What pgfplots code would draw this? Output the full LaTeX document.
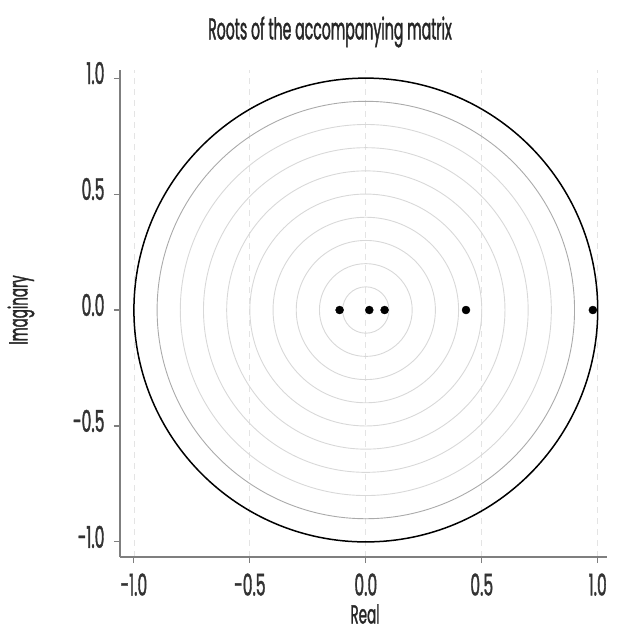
\documentclass[border=0pt]{standalone}
\usepackage{fontspec}
\setmainfont{Poppins}[FakeStretch=0.52, FakeBold=1.2]
\newfontfamily\titlefont{Poppins}[FakeStretch=0.47, FakeBold=1.2]
\usepackage{pgfplots}
\pgfplotsset{compat=1.18}
\definecolor{axgray}{HTML}{7F7F7F}
\definecolor{ringgray}{HTML}{D8D8D8}
\definecolor{ringdark}{HTML}{AAAAAA}
\definecolor{gridgray}{HTML}{E4E4E4}
\begin{document}
\begin{tikzpicture}
\path[use as bounding box] (-120pt,-82pt) rectangle (497pt,557pt);
\begin{axis}[
  at={(0pt,0pt)}, anchor=south west,
  scale only axis,
  width=487pt, height=487pt,
  xmin=-1.06, xmax=1.04, ymin=-1.065, ymax=1.035,
  axis x line=bottom, axis y line=left,
  axis line style={axgray, line width=1.3pt, -},
  tick style={axgray, line width=1.1pt},
  tick align=outside,
  major tick length=6pt,
  xtick={-1,-0.5,0,0.5,1},
  xticklabels={-1.0,-0.5,0.0,0.5,1.0},
  ytick={-1,-0.5,0,0.5,1},
  yticklabels={-1.0,-0.5,0.0,0.5,1.0},
  ticklabel style={font=\fontsize{30}{30}\selectfont, text=black!80},
  xticklabel style={yshift=-7pt},
  yticklabel style={xshift=-6pt, yshift=5pt},
  xmajorgrids,
  major grid style={gridgray, dashed, line width=0.8pt, dash pattern=on 6pt off 5pt},
  clip=false,
]
\draw[ringgray, line width=0.9pt] (axis cs:0,0) circle[radius=0.1];
\draw[ringgray, line width=0.9pt] (axis cs:0,0) circle[radius=0.2];
\draw[ringgray, line width=0.9pt] (axis cs:0,0) circle[radius=0.3];
\draw[ringgray, line width=0.9pt] (axis cs:0,0) circle[radius=0.4];
\draw[ringgray, line width=0.9pt] (axis cs:0,0) circle[radius=0.5];
\draw[ringgray, line width=0.9pt] (axis cs:0,0) circle[radius=0.6];
\draw[ringgray, line width=0.9pt] (axis cs:0,0) circle[radius=0.7];
\draw[ringgray, line width=0.9pt] (axis cs:0,0) circle[radius=0.8];
\draw[ringdark, line width=0.9pt] (axis cs:0,0) circle[radius=0.9];
\draw[black, line width=1.5pt] (axis cs:0,0) circle[radius=1];
\addplot[only marks, mark=*, mark size=4pt, black] coordinates {
  (-0.113,0) (0.015,0) (0.081,0) (0.432,0) (0.979,0)
};
\end{axis}
\node[font=\titlefont\fontsize{30}{30}\selectfont, text=black!85] at (210pt,525pt) {Roots of the accompanying matrix};
\node[font=\fontsize{26}{26}\selectfont, text=black!85] at (245pt,-57pt) {Real};
\node[font=\fontsize{26}{26}\selectfont, text=black!85, rotate=90] at (-99pt,247pt) {Imaginary};
\end{tikzpicture}
\end{document}
